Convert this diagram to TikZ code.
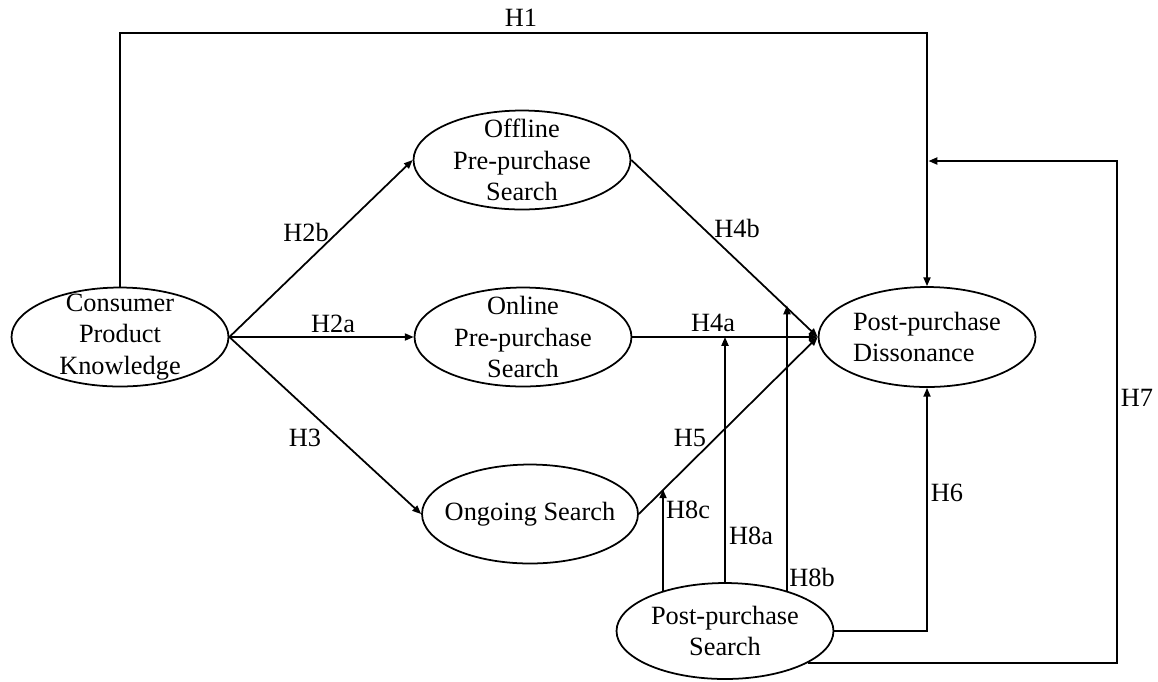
\documentclass[tikz,border=0pt]{standalone}
\usepackage{fontspec}
\setmainfont{Liberation Serif}
\usetikzlibrary{shapes.geometric,arrows.meta,calc}
\tikzset{
  construct/.style={draw, ellipse, line width=1pt, inner sep=0pt,
    minimum width=4.34cm, minimum height=1.98cm},
  ctext/.style={align=center, font=\fontsize{15}{18}\selectfont, inner sep=0pt},
  hyp/.style={-{Triangle[length=5pt,width=4pt]}, line width=1pt},
  hlabel/.style={font=\fontsize{15}{18}\selectfont, inner sep=0pt},
}
\begin{document}
\begin{tikzpicture}[x=0.02cm, y=-0.02cm]
\useasboundingbox (0,0) rectangle (1158,681);
% constructs
\node[construct, label={[ctext]center:Consumer\\Product\\Knowledge}] (know) at (120,337) {};
\node[construct, label={[ctext]center:Offline\\Pre-purchase\\Search}] (offline) at (522,160) {};
\node[construct, label={[ctext]center:Online\\Pre-purchase\\Search}] (online) at (523,337) {};
\node[construct, minimum width=4.32cm, label={[ctext]center:Ongoing Search}] (ongoing) at (530,514) {};
\node[construct, minimum height=2cm, label={[ctext, align=left]center:Post-purchase\\Dissonance}] (disson) at (927,337) {};
\node[construct, minimum height=1.92cm, label={[ctext]center:Post-purchase\\Search}] (ppsearch) at (725,631) {};
% bend points
\coordinate (topbar) at (526,33);
\coordinate (rbar) at (1117,161);
% direct paths
\draw[hyp] (know.north) |- (topbar) -| (disson.north);
\draw[hyp] (know.east) -- (offline.west);
\draw[hyp] (know.east) -- (online.west);
\draw[hyp] (know.east) -- (ongoing.west);
\draw[hyp] (offline.east) -- coordinate[pos=0.822] (b8) (disson.west);
\draw[hyp] (online.east) -- (disson.west);
\draw[hyp] (ongoing.east) -- coordinate[pos=0.139] (c8) (disson.west);
\draw[hyp] (ppsearch.east) -| (disson.south);
\draw[hyp] (ppsearch.-21.7) -| (rbar) -- ($(rbar -| disson.north)+(1.5,0)$);
% moderating paths
\draw[hyp] (ppsearch.north) -- (ppsearch.north |- online.east);
\draw[hyp] (ppsearch.33.7) -- (ppsearch.33.7 |- b8);
\draw[hyp] (ppsearch.147.6) -- (ppsearch.147.6 |- c8);
% hypothesis labels
\node[hlabel] (lh1) at (521,18) {H1};
\node[hlabel] (lh2b) at (306,232) {H2b};
\node[hlabel] (lh2a) at (333,324) {H2a};
\node[hlabel] (lh3) at (305,438) {H3};
\node[hlabel] (lh4b) at (737,228) {H4b};
\node[hlabel] (lh4a) at (713,323) {H4a};
\node[hlabel] (lh5) at (690,438) {H5};
\node[hlabel] (lh6) at (947,493) {H6};
\node[hlabel] (lh7) at (1137,398) {H7};
\node[hlabel] (lh8a) at (751,536) {H8a};
\node[hlabel] (lh8b) at (812,577) {H8b};
\node[hlabel] (lh8c) at (688,510) {H8c};
\end{tikzpicture}
\end{document}
